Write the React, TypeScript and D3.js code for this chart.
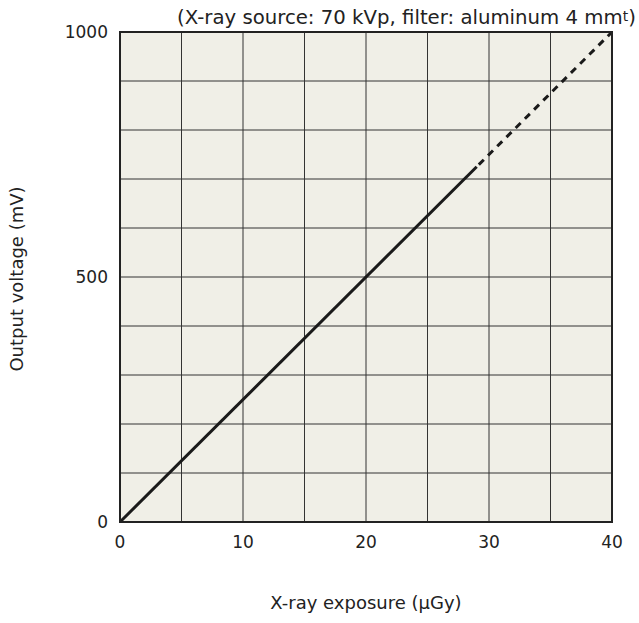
import React, { useEffect, useRef } from "react";
import * as d3 from "d3";

// measured response: output voltage (mV) vs X-ray exposure (µGy)
const measuredExposure = [0, 29];
const measuredVoltage = [0, 725];
// extrapolated part (dashed)
const extrapExposure = [29, 40];
const extrapVoltage = [725, 1000];

const xTicks = [0, 10, 20, 30, 40];
const yTicks = [0, 500, 1000];
const xGrid = [5, 10, 15, 20, 25, 30, 35];
const yGrid = [100, 200, 300, 400, 500, 600, 700, 800, 900];

const titleText = "(X-ray source: 70 kVp, filter: aluminum 4 mm";
const xLabel = "X-ray exposure (µGy)";
const yLabel = "Output voltage (mV)";

const width = 639;
const height = 623;
const marginTop = 32;
const marginRight = 27;
const marginBottom = 101;
const marginLeft = 120;

const App = () => {
  const svgRef = useRef(null);

  useEffect(() => {
    const svg = d3.select(svgRef.current);
    svg.selectAll("*").remove();

    const x = d3.scaleLinear().domain([0, 40]).range([marginLeft, width - marginRight]);
    const y = d3.scaleLinear().domain([0, 1000]).range([height - marginBottom, marginTop]);

    const font = "'DejaVu Sans', Verdana, sans-serif";

    // plot background
    svg
      .append("rect")
      .attr("x", x(0))
      .attr("y", y(1000))
      .attr("width", x(40) - x(0))
      .attr("height", y(0) - y(1000))
      .attr("fill", "#f0efe7");

    // grid
    const grid = svg.append("g").attr("stroke", "#333").attr("stroke-width", 1);
    grid
      .selectAll("line.v")
      .data(xGrid)
      .join("line")
      .attr("class", "v")
      .attr("x1", d => x(d))
      .attr("x2", d => x(d))
      .attr("y1", y(0))
      .attr("y2", y(1000));
    grid
      .selectAll("line.h")
      .data(yGrid)
      .join("line")
      .attr("class", "h")
      .attr("x1", x(0))
      .attr("x2", x(40))
      .attr("y1", d => y(d))
      .attr("y2", d => y(d));

    // response line: solid where measured, dashed beyond
    const solid = measuredExposure.map((e, i) => [e, measuredVoltage[i]] as [number, number]);
    const dashed = extrapExposure.map((e, i) => [e, extrapVoltage[i]] as [number, number]);
    const path = d3
      .line<[number, number]>()
      .x(d => x(d[0]))
      .y(d => y(d[1]));

    svg
      .append("path")
      .datum(solid)
      .attr("fill", "none")
      .attr("stroke", "#1a1a1a")
      .attr("stroke-width", 3)
      .attr("d", path);
    svg
      .append("path")
      .datum(dashed)
      .attr("fill", "none")
      .attr("stroke", "#1a1a1a")
      .attr("stroke-width", 3)
      .attr("stroke-dasharray", "7,6")
      .attr("stroke-dashoffset", -3)
      .attr("d", path);

    // frame
    svg
      .append("rect")
      .attr("x", x(0))
      .attr("y", y(1000))
      .attr("width", x(40) - x(0))
      .attr("height", y(0) - y(1000))
      .attr("fill", "none")
      .attr("stroke", "#222")
      .attr("stroke-width", 2);

    // tick labels
    svg
      .append("g")
      .selectAll("text")
      .data(xTicks)
      .join("text")
      .attr("x", d => x(d))
      .attr("y", y(0) + 26)
      .attr("text-anchor", "middle")
      .attr("font-family", font)
      .attr("font-size", 17)
      .attr("fill", "#222")
      .text(d => d);

    svg
      .append("g")
      .selectAll("text")
      .data(yTicks)
      .join("text")
      .attr("x", x(0) - 12)
      .attr("y", d => y(d))
      .attr("dy", "0.35em")
      .attr("text-anchor", "end")
      .attr("font-family", font)
      .attr("font-size", 17)
      .attr("fill", "#222")
      .text(d => d);

    // axis labels
    svg
      .append("text")
      .attr("x", (x(0) + x(40)) / 2)
      .attr("y", 609)
      .attr("text-anchor", "middle")
      .attr("font-family", font)
      .attr("font-size", 18)
      .attr("fill", "#222")
      .text(xLabel);

    svg
      .append("text")
      .attr("transform", `translate(23,${(y(0) + y(1000)) / 2 + 2}) rotate(-90)`)
      .attr("text-anchor", "middle")
      .attr("font-family", font)
      .attr("font-size", 18)
      .attr("fill", "#222")
      .text(yLabel);

    // condition note (top right)
    const note = svg
      .append("text")
      .attr("x", 177)
      .attr("y", 24)
      .attr("font-family", font)
      .attr("font-size", 17.5)
      .attr("fill", "#222");
    note.append("tspan").text(titleText);
    note.append("tspan").attr("font-size", "0.7em").attr("dy", "-0.2em").text("t");
    note.append("tspan").attr("dy", "0.14em").text(")");

    // fit the note between its left edge and the right side of the window
    const w = (note.node() as SVGTextElement).getComputedTextLength();
    if (w > 0) note.attr("font-size", (17.5 * (636 - 177)) / w);
  }, []);

  return (
    <svg
      ref={svgRef}
      width={width}
      height={height}
      style={{ display: "block", position: "absolute", left: 0, top: 0, overflow: "visible" }}
    />
  );
};

export default App;
